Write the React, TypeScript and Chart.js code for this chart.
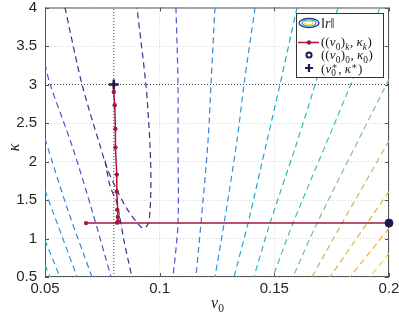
import React, { useEffect, useRef } from 'react';
import { Chart, registerables } from 'chart.js';

Chart.register(...registerables);

// Axis ticks
const xTicks = [0.05, 0.1, 0.15, 0.2];
const yTicks = [0.5, 1, 1.5, 2, 2.5, 3, 3.5, 4];

// Contour lines of ||r|| as [v0, kappa] pairs, one array per traced line
const contourL0U = [[0.0587, 4.0], [0.0661, 3.005], [0.074, 2.205], [0.077, 1.921], [0.0814, 1.624], [0.0862, 1.365], [0.0901, 1.21], [0.0927, 1.133], [0.0949, 1.184], [0.0958, 1.365], [0.0962, 1.753], [0.0958, 2.205], [0.0949, 2.657], [0.094, 3.005], [0.0901, 4.0]];
const contourL0B = [[0.0762, 2.011], [0.0783, 1.688], [0.0814, 1.456], [0.0844, 0.978], [0.0879, 0.5]];
const contourL1Left = [[0.05, 3.264], [0.0522, 3.005], [0.0618, 2.205], [0.0705, 1.365], [0.0788, 0.5]];
const contourL2Left = [[0.05, 2.295], [0.06, 1.365], [0.0705, 0.5]];
const contourL3Left = [[0.05, 1.624], [0.064, 0.5]];
const contourL4Left = [[0.05, 0.978], [0.0565, 0.5]];
const contourL5Left = [[0.05, 0.655], [0.0522, 0.5]];
const contourL1Right = [[0.1071, 4.0], [0.108, 3.005], [0.108, 2.269], [0.108, 1.197], [0.1058, 0.5]];
const contourL2Right = [[0.1241, 4.0], [0.1224, 3.005], [0.1211, 2.269], [0.118, 1.197], [0.1158, 0.5]];
const contourL3Right = [[0.1416, 4.0], [0.1368, 3.005], [0.1337, 2.269], [0.1281, 1.197], [0.1241, 0.5]];
const contourL4Right = [[0.1599, 4.0], [0.1525, 3.005], [0.1468, 2.269], [0.1385, 1.197], [0.1324, 0.5]];
const contourL5Right = [[0.1778, 4.0], [0.1669, 2.915], [0.1594, 2.205], [0.1481, 1.197], [0.1411, 0.5]];
const contourL6Right = [[0.1961, 4.0], [0.1821, 2.915], [0.1581, 1.197], [0.1494, 0.5]];
const contourL7Right = [[0.2, 3.07], [0.1974, 2.915], [0.1686, 1.197], [0.1581, 0.5]];
const contourL8Right = [[0.2, 2.269], [0.1795, 1.197], [0.1664, 0.5]];
const contourL9Right = [[0.2, 1.611], [0.1904, 1.197], [0.1743, 0.5]];
const contourL10Right = [[0.2, 1.133], [0.183, 0.5]];
const contourL11Right = [[0.2, 0.81], [0.1917, 0.5]];

// Iterates ((v0)_k, kappa_k)
const iterV = [0.2, 0.0679, 0.0815, 0.0818, 0.0818, 0.0815, 0.0813, 0.0813, 0.0807, 0.0807, 0.0804, 0.08, 0.08];
const iterK = [1.2, 1.2, 1.206, 1.223, 1.279, 1.372, 1.611, 1.83, 2.183, 2.424, 2.73, 2.902, 3.0];
// Start point and exact solution
const startV = [0.2];
const startK = [1.2];
const solV = [0.08];
const solK = [3.0];

const levelColors = ['#3b2f8c', '#4b55cf', '#3a7fe0', '#2b98dc', '#18acd0', '#27bbbd', '#45c1a4', '#7cc382', '#b3bf5e', '#dcb64b', '#f6ac38', '#f3d92a'];

const contours: [number[][], number][] = [
  [contourL0U, 0], [contourL0B, 0],
  [contourL1Left, 1], [contourL2Left, 2], [contourL3Left, 3], [contourL4Left, 4], [contourL5Left, 5],
  [contourL1Right, 1], [contourL2Right, 2], [contourL3Right, 3], [contourL4Right, 4], [contourL5Right, 5],
  [contourL6Right, 6], [contourL7Right, 7], [contourL8Right, 8], [contourL9Right, 9], [contourL10Right, 10], [contourL11Right, 11],
];

const RED = '#a8173a';
const NAVY = '#231a55';

type Run = { t: string; it?: boolean; sub?: boolean; sup?: boolean; stackSub?: string };

function drawRuns(ctx: CanvasRenderingContext2D, runs: Run[], x: number, y: number, size: number) {
  let cx = x;
  const fam = '"Liberation Serif", "DejaVu Serif", serif';
  for (const r of runs) {
    const small = r.sub || r.sup;
    const fs = small ? size * 0.72 : size;
    ctx.font = `${r.it ? 'italic ' : ''}${fs}px ${fam}`;
    const dy = r.sub ? size * 0.28 : r.sup ? -size * 0.3 : 0;
    ctx.fillText(r.t, cx, y + dy);
    let w = ctx.measureText(r.t).width;
    if (r.stackSub) {
      ctx.font = `${fs}px ${fam}`;
      ctx.fillText(r.stackSub, cx, y + size * 0.28);
      w = Math.max(w, ctx.measureText(r.stackSub).width);
    }
    cx += w + (small ? 0.5 : 0.1);
  }
}

const framePlugin = {
  id: 'frame',
  beforeDatasetsDraw(chart: any) {
    const { ctx, chartArea: a, scales } = chart;
    const xs = scales.x;
    const ys = scales.y;
    ctx.save();
    ctx.strokeStyle = '#555';
    ctx.lineWidth = 1;
    ctx.setLineDash([]);
    ctx.strokeRect(a.left + 0.5, a.top + 0.5, a.right - a.left - 1, a.bottom - a.top - 1);
    ctx.beginPath();
    for (const v of xTicks) {
      const p = Math.round(xs.getPixelForValue(v)) + 0.5;
      ctx.moveTo(p, a.bottom);
      ctx.lineTo(p, a.bottom - 4);
      ctx.moveTo(p, a.top);
      ctx.lineTo(p, a.top + 4);
    }
    for (const v of yTicks) {
      const p = Math.round(ys.getPixelForValue(v)) + 0.5;
      ctx.moveTo(a.left, p);
      ctx.lineTo(a.left + 4, p);
      ctx.moveTo(a.right, p);
      ctx.lineTo(a.right - 4, p);
    }
    ctx.stroke();
    ctx.restore();
  },
  afterDraw(chart: any) {
    const { ctx, chartArea: a } = chart;
    ctx.save();
    ctx.fillStyle = '#1a1a1a';
    ctx.textBaseline = 'alphabetic';
    // axis titles
    const cx = (a.left + a.right) / 2;
    drawRuns(ctx, [{ t: 'v', it: true }, { t: '0', sub: true }], cx - 6, 308, 16);
    ctx.save();
    ctx.translate(19, (a.top + a.bottom) / 2 + 5);
    ctx.rotate(-Math.PI / 2);
    drawRuns(ctx, [{ t: 'κ', it: true }], -4, 0, 16);
    ctx.restore();

    // legend box
    const bx = 296, by = 13, bw = 87, bh = 64;
    ctx.fillStyle = '#ffffff';
    ctx.fillRect(bx, by, bw, bh);
    ctx.strokeStyle = '#333';
    ctx.lineWidth = 1;
    ctx.strokeRect(bx + 0.5, by + 0.5, bw, bh);

    const ix = 309;
    // contour icon
    const ell = (rx: number, ry: number, c: string) => {
      ctx.beginPath();
      ctx.ellipse(ix, 23, rx, ry, 0, 0, Math.PI * 2);
      ctx.strokeStyle = c;
      ctx.lineWidth = 1.3;
      ctx.stroke();
    };
    ell(10, 4.5, levelColors[0]);
    ell(7, 3.2, levelColors[4]);
    ell(4, 1.8, levelColors[11]);
    // red line icon
    ctx.beginPath();
    ctx.moveTo(298, 42.5);
    ctx.lineTo(319, 42.5);
    ctx.strokeStyle = RED;
    ctx.lineWidth = 1.5;
    ctx.stroke();
    ctx.beginPath();
    ctx.arc(ix, 42.5, 2.2, 0, Math.PI * 2);
    ctx.fillStyle = RED;
    ctx.fill();
    // circle icon
    ctx.beginPath();
    ctx.arc(ix, 55, 2.6, 0, Math.PI * 2);
    ctx.strokeStyle = NAVY;
    ctx.lineWidth = 2;
    ctx.stroke();
    // plus icon
    ctx.beginPath();
    ctx.moveTo(ix - 4, 68);
    ctx.lineTo(ix + 4, 68);
    ctx.moveTo(ix, 64);
    ctx.lineTo(ix, 72);
    ctx.strokeStyle = NAVY;
    ctx.lineWidth = 2.2;
    ctx.stroke();

    ctx.fillStyle = '#1a1a1a';
    const fs = 13;
    drawRuns(ctx, [{ t: '‖' }, { t: 'r', it: true }, { t: '‖' }], 321, 27.5, 14);
    drawRuns(ctx, [{ t: '((' }, { t: 'v', it: true }, { t: '0', sub: true }, { t: ')' }, { t: 'k', it: true, sub: true }, { t: ', ' }, { t: 'κ', it: true }, { t: 'k', it: true, sub: true }, { t: ')' }], 321, 46, fs);
    drawRuns(ctx, [{ t: '((' }, { t: 'v', it: true }, { t: '0', sub: true }, { t: ')' }, { t: '0', sub: true }, { t: ', ' }, { t: 'κ', it: true }, { t: '0', sub: true }, { t: ')' }], 321, 59, fs);
    drawRuns(ctx, [{ t: '(' }, { t: 'v', it: true }, { t: '∗', sup: true, stackSub: '0' }, { t: ', ' }, { t: 'κ', it: true }, { t: '∗', sup: true }, { t: ')' }], 321, 72.5, fs);
    ctx.restore();
  },
};

export default function App() {
  const ref = useRef<HTMLCanvasElement | null>(null);
  useEffect(() => {
    if (!ref.current) return;
    const toXY = (pts: number[][]) => pts.map(([x, y]) => ({ x, y }));
    const contourSets = contours.map(([pts, lvl]) => ({
      data: toXY(pts),
      showLine: true,
      borderColor: levelColors[lvl],
      borderWidth: 1.2,
      borderDash: [6, 4],
      pointRadius: 0,
      tension: 0.3,
    }));
    const chart = new Chart(ref.current, {
      type: 'scatter',
      data: {
        datasets: [
          {
            data: solV.map((v, i) => ({ x: v, y: solK[i] })),
            pointStyle: 'cross',
            pointRadius: 5,
            borderWidth: 2.5,
            borderColor: NAVY,
            backgroundColor: NAVY,
            clip: false,
          } as any,
          {
            data: startV.map((v, i) => ({ x: v, y: startK[i] })),
            pointStyle: 'circle',
            pointRadius: 4,
            borderWidth: 1,
            borderColor: NAVY,
            backgroundColor: NAVY,
            clip: false,
          },
          {
            data: iterV.map((v, i) => ({ x: v, y: iterK[i] })),
            showLine: true,
            borderColor: RED,
            borderWidth: 1.5,
            pointRadius: 2.2,
            pointBorderWidth: 0,
            pointBackgroundColor: RED,
            backgroundColor: RED,
          },
          {
            data: [{ x: solV[0], y: yTicks[0] }, { x: solV[0], y: yTicks[yTicks.length - 1] }],
            showLine: true,
            borderColor: '#444',
            borderWidth: 1,
            borderDash: [1, 2],
            pointRadius: 0,
          },
          {
            data: [{ x: xTicks[0], y: solK[0] }, { x: xTicks[xTicks.length - 1], y: solK[0] }],
            showLine: true,
            borderColor: '#444',
            borderWidth: 1,
            borderDash: [1, 2],
            pointRadius: 0,
          },
          ...contourSets,
        ],
      },
      options: {
        responsive: false,
        animation: false,
        layout: { padding: { left: 0, right: 10, top: 6, bottom: 0 } },
        plugins: { legend: { display: false }, tooltip: { enabled: false } },
        scales: {
          x: {
            type: 'linear',
            min: 0.05,
            max: 0.2,
            afterBuildTicks: (s: any) => {
              s.ticks = xTicks.map((v) => ({ value: v }));
            },
            ticks: {
              font: { family: '"Liberation Sans", Arial, sans-serif', size: 15 },
              color: '#262626',
              padding: 3,
              maxRotation: 0,
              autoSkip: false,
              callback: (v: any) => String(v),
            },
            grid: { color: '#d4d4d4', lineWidth: 1, drawTicks: false },
            border: { display: false, dash: [1, 2] },
            afterFit: (s: any) => {
              s.height = 38;
              s.paddingLeft = 0;
              s.paddingRight = 0;
            },
          },
          y: {
            type: 'linear',
            min: 0.5,
            max: 4,
            afterBuildTicks: (s: any) => {
              s.ticks = yTicks.map((v) => ({ value: v }));
            },
            ticks: {
              font: { family: '"Liberation Sans", Arial, sans-serif', size: 15 },
              color: '#262626',
              padding: 8,
              autoSkip: false,
              callback: (v: any) => String(v),
            },
            grid: { color: '#d4d4d4', lineWidth: 1, drawTicks: false },
            border: { display: false, dash: [1, 2] },
            afterFit: (s: any) => {
              s.width = 45;
              s.paddingTop = 0;
              s.paddingBottom = 0;
            },
          },
        },
      },
      plugins: [framePlugin],
    });
    return () => chart.destroy();
  }, []);
  return (
    <div style={{ position: 'absolute', left: 0, top: 0, width: 399, height: 315, background: '#fff' }}>
      <canvas ref={ref} width={399} height={315} style={{ display: 'block' }} />
    </div>
  );
}
